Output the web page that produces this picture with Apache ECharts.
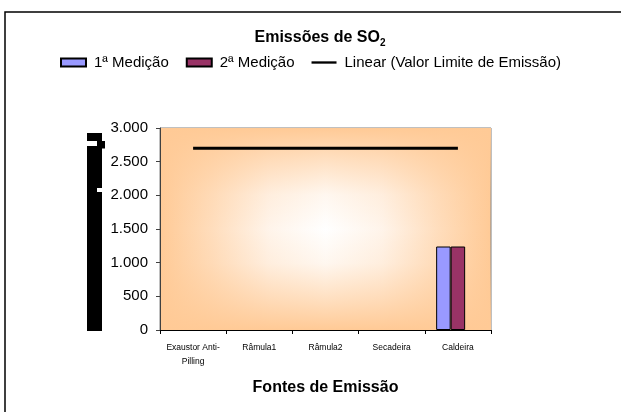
<!DOCTYPE html>
<html>
<head>
<meta charset="utf-8">
<script src="https://cdn.jsdelivr.net/npm/echarts@6/dist/echarts.min.js"></script>
<style>
html,body{margin:0;padding:0;background:#fff;}
#main{width:621px;height:412px;}
</style>
</head>
<body>
<div id="main"></div>
<script>
const categories = ['Exaustor Anti-\nPilling', 'Râmula1', 'Râmula2', 'Secadeira', 'Caldeira'];
const medicao1 = ['-', '-', '-', '-', 1240];
const medicao2 = ['-', '-', '-', '-', 1240];
const valorLimite = ['-', '-', '-', '-', '-'];
const linearLimite = [2700, 2700, 2700, 2700, 2700];
const yMin = 0, yMax = 3000, yStep = 500;

const FONT = '"Liberation Sans", Arial, sans-serif';
const G = {left: 160, top: 128, right: 130, bottom: 82};
const W = 621, H = 412;
const gw = W - G.left - G.right, gh = H - G.top - G.bottom;

function fmt(v) { return String(v).replace(/\B(?=(\d{3})+(?!\d))/g, '.'); }

const chart = echarts.init(document.getElementById('main'), null, {renderer: 'canvas'});
chart.setOption({
  animation: false,
  backgroundColor: '#ffffff',
  textStyle: {fontFamily: FONT},
  title: {
    text: '{a|Emissões de SO}{b|2}',
    left: 315, textAlign: 'center', top: 23,
    textStyle: {
      rich: {
        a: {fontFamily: FONT, fontSize: 16, fontWeight: 'bold', color: '#000', lineHeight: 20},
        b: {fontFamily: FONT, fontSize: 10, fontWeight: 'bold', color: '#000', verticalAlign: 'bottom', lineHeight: 13, padding: [9, 0, 0, 0]}
      }
    }
  },
  legend: {
    data: [
      {name: '1ª Medição', icon: 'rect'},
      {name: '2ª Medição', icon: 'rect'},
      {name: 'Linear (Valor Limite de Emissão)', icon: 'path://M0,0 M0,8 M0,2.6 L30,2.6 L30,5.4 L0,5.4 Z'}
    ],
    left: 'center', top: 50, width: 610,
    itemWidth: 25, itemHeight: 8, itemGap: 17,
    textStyle: {fontFamily: FONT, fontSize: 15, color: '#000', padding: [0, 0, 0, 3]}
  },
  grid: {
    left: G.left, top: G.top, right: G.right, bottom: G.bottom,
    show: true, borderColor: '#808080', borderWidth: 1,
    backgroundColor: {
      type: 'linear', x: 0, y: 0, x2: 1, y2: 0,
      colorStops: [
        {offset: 0, color: '#FFCA96'},
        {offset: 0.15, color: '#FFDCBA'},
        {offset: 0.33, color: '#FFF4EA'},
        {offset: 0.5, color: '#FFFFFF'},
        {offset: 0.67, color: '#FFF4EA'},
        {offset: 0.85, color: '#FFDCBA'},
        {offset: 1, color: '#FFCA96'}
      ]
    }
  },
  graphic: [
    {
      type: 'rect', z: 1, silent: true,
      shape: {x: G.left, y: G.top, width: gw, height: gh},
      style: {
        fill: {
          type: 'linear', x: 0, y: 0, x2: 0, y2: 1,
          colorStops: [
            {offset: 0, color: 'rgba(255,202,150,1)'},
            {offset: 0.15, color: 'rgba(255,202,150,0.6)'},
            {offset: 0.33, color: 'rgba(255,202,150,0.15)'},
            {offset: 0.5, color: 'rgba(255,202,150,0)'},
            {offset: 0.67, color: 'rgba(255,202,150,0.15)'},
            {offset: 0.85, color: 'rgba(255,202,150,0.6)'},
            {offset: 1, color: 'rgba(255,202,150,1)'}
          ]
        }
      }
    },
    {type: 'rect', silent: true, z: 0, shape: {x: 5, y: 12, width: 700, height: 500},
     style: {fill: 'none', stroke: '#000', lineWidth: 1.5}},
    {type: 'rect', silent: true, shape: {x: 87, y: 133, width: 15, height: 8}, style: {fill: '#000'}},
    {type: 'rect', silent: true, shape: {x: 97, y: 141, width: 8, height: 7}, style: {fill: '#000'}},
    {type: 'rect', silent: true, shape: {x: 87, y: 146, width: 18, height: 2.5}, style: {fill: '#000'}},
    {type: 'rect', silent: true, shape: {x: 87, y: 148, width: 15, height: 183}, style: {fill: '#000'}},
    {type: 'rect', silent: true, z: 10, shape: {x: 97, y: 188, width: 5, height: 4}, style: {fill: '#fff'}}
  ],
  xAxis: {
    type: 'category', data: categories, z: 5,
    name: 'Fontes de Emissão', nameLocation: 'middle', nameGap: 50,
    nameTextStyle: {fontFamily: FONT, fontSize: 16, fontWeight: 'bold', color: '#000'},
    axisLine: {lineStyle: {color: '#000', width: 1}},
    axisTick: {show: true, length: 4, lineStyle: {color: '#000'}},
    axisLabel: {fontFamily: FONT, fontSize: 8.5, color: '#000', margin: 11, lineHeight: 14, interval: 0},
    splitLine: {show: false}
  },
  yAxis: {
    type: 'value', min: yMin, max: yMax, interval: yStep, z: 5,
    axisLine: {show: true, lineStyle: {color: '#404040', width: 1}},
    axisTick: {show: true, length: 4, lineStyle: {color: '#404040'}},
    axisLabel: {fontFamily: FONT, fontSize: 15, color: '#000', margin: 12, formatter: fmt},
    splitLine: {show: false}
  },
  series: [
    {name: '1ª Medição', type: 'bar', data: medicao1, barWidth: 14.5, barGap: '0%', z: 3,
     itemStyle: {color: '#9999FF', borderColor: '#000', borderWidth: 1}},
    {name: '2ª Medição', type: 'bar', data: medicao2, barWidth: 14.5, barGap: '0%', z: 3,
     itemStyle: {color: '#993366', borderColor: '#000', borderWidth: 1}},
    {name: 'Valor Limite de Emissão', type: 'bar', data: valorLimite, barWidth: 14.5, barGap: '0%', z: 3,
     itemStyle: {color: 'transparent'}},
    {name: 'Linear (Valor Limite de Emissão)', type: 'line', data: linearLimite, symbol: 'none', z: 4,
     lineStyle: {color: '#000', width: 3}, itemStyle: {color: '#000'}}
  ]
});
</script>
</body>
</html>
